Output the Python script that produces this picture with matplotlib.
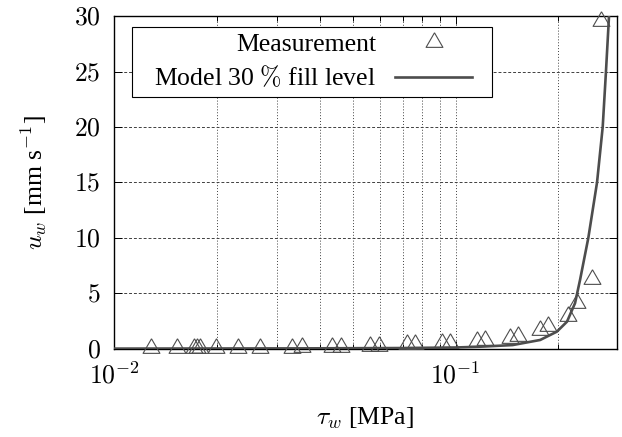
import numpy as np
import matplotlib
matplotlib.use("Agg")
import matplotlib.pyplot as plt
from matplotlib.patches import Rectangle
from matplotlib.ticker import FixedLocator, FuncFormatter, NullFormatter

# measured wall velocity vs wall shear stress
tau_meas = [0.0128, 0.0153, 0.0171, 0.0175, 0.0179, 0.0199, 0.0231, 0.0267,
            0.0333, 0.0355, 0.0436, 0.0462, 0.0562, 0.0595, 0.0720, 0.0761,
            0.0911, 0.0963, 0.1154, 0.1221, 0.1444, 0.1524, 0.1768, 0.1869,
            0.2139, 0.2268, 0.2515, 0.2667]
u_meas = [0.03, 0.03, 0.03, 0.03, 0.03, 0.05, 0.05, 0.05,
          0.08, 0.10, 0.10, 0.10, 0.22, 0.25, 0.40, 0.42,
          0.52, 0.55, 0.70, 0.75, 0.98, 1.14, 1.68, 2.07,
          2.94, 4.08, 6.25, 29.6]

# model curve, 30 % fill level
tau_model = [0.010, 0.035, 0.069, 0.100, 0.118, 0.147, 0.177, 0.198, 0.212,
             0.2238, 0.2315, 0.2448, 0.2596, 0.2697, 0.2757, 0.2814]
u_model = [0.0, 0.02, 0.05, 0.10, 0.17, 0.32, 0.78, 1.53, 2.43,
           4.1, 6.2, 10.0, 15.0, 20.0, 25.0, 30.0]

x_major = [0.01, 0.1]
x_minor = [0.02, 0.03, 0.04, 0.05, 0.06, 0.07, 0.08, 0.09, 0.2]
y_ticks = [0, 5, 10, 15, 20, 25, 30]

plt.rcParams['font.family'] = ['Liberation Serif', 'DejaVu Serif']
plt.rcParams['mathtext.fontset'] = 'cm'
plt.rcParams['font.size'] = 18.5

fig = plt.figure(figsize=(6.22, 4.37), dpi=100)
ax = fig.add_axes([114/622, 88.4/437, 503/622, 332.3/437])

# gnuplot style open triangle (closed path)
tri = [(0, 1), (-0.866, -0.5), (0.866, -0.5), (0, 1)]

ax.plot(tau_meas, u_meas, linestyle='none', marker=tri, markersize=14,
        markerfacecolor='none', markeredgecolor='0.3', markeredgewidth=0.8,
        clip_on=False, label='Measurement', zorder=3)
ax.plot(tau_model, u_model, color='0.3', linewidth=1.9,
        label=r'Model 30 $\%$ fill level', zorder=4)

ax.set_xscale('log')
ax.set_xlim(0.01, 0.297)
ax.set_ylim(0, 30)

ax.xaxis.set_major_locator(FixedLocator(x_major))
ax.xaxis.set_minor_locator(FixedLocator(x_minor))
ax.xaxis.set_major_formatter(FuncFormatter(lambda v, p: r'$10^{%d}$' % round(np.log10(v))))
ax.xaxis.set_minor_formatter(NullFormatter())
ax.yaxis.set_major_locator(FixedLocator(y_ticks))
ax.yaxis.set_major_formatter(FuncFormatter(lambda v, p: r'$%d$' % v))

ax.tick_params(which='both', direction='in', top=True, right=True, width=0.7)
ax.tick_params(which='major', length=6)
ax.tick_params(which='minor', length=3.3)
ax.tick_params(axis='x', pad=10)
ax.tick_params(axis='y', pad=9.5)

ax.grid(which='both', axis='x', linestyle=(0, (1, 2)), linewidth=0.7, color='0.25')
ax.grid(which='major', axis='y', linestyle=(0, (3, 2)), linewidth=0.7, color='0.25')
ax.set_axisbelow(True)
for s in ax.spines.values():
    s.set_linewidth(1.0)

ax.set_xlabel(r'$\tau_w$ [MPa]', labelpad=12)
ax.set_ylabel(r'$u_w$ [mm s$^{-1}$]', labelpad=18)

leg = ax.legend(loc='upper left', bbox_to_anchor=(0.0676, 0.968), borderaxespad=0,
                markerfirst=False, handlelength=3.0, handletextpad=0.75,
                borderpad=0.25, labelspacing=0.33, frameon=False)
leg.set_zorder(6)

# wider box around the legend (gnuplot key has more room left/right)
fig.canvas.draw()
bb = leg.get_window_extent().transformed(ax.transAxes.inverted())
padl = 16 / 503
padr = 13 / 503
ax.add_patch(Rectangle((bb.x0 - padl, bb.y0), bb.width + padl + padr, bb.height,
                       transform=ax.transAxes, facecolor='white', edgecolor='black',
                       linewidth=0.8, zorder=5, clip_on=False))

fig.savefig('out.png', dpi=100)
